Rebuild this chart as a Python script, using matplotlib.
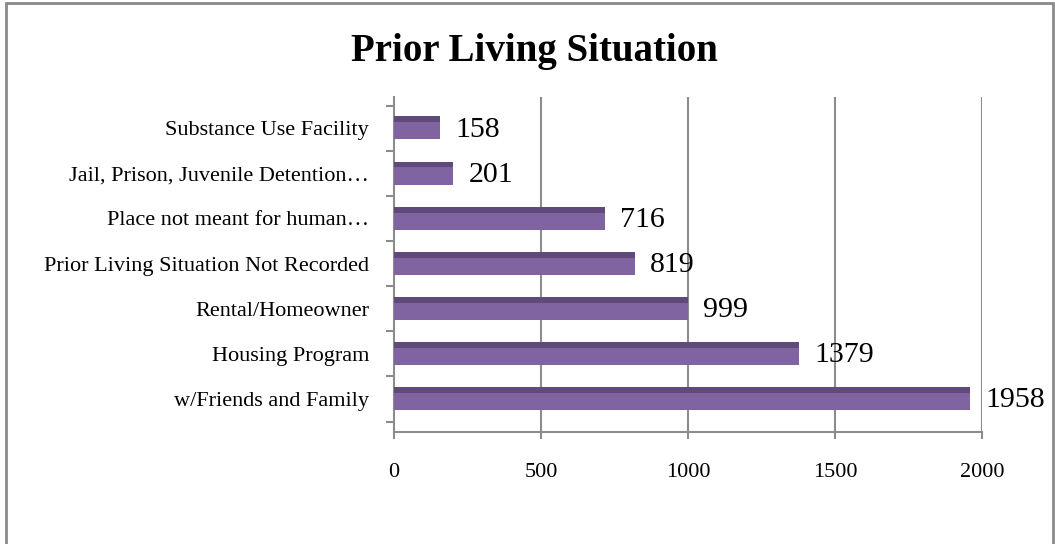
"""Prior Living Situation - horizontal bar chart"""

import matplotlib.pyplot as plt
from matplotlib.patches import Rectangle

categories = [
    'w/Friends and Family',
    'Housing Program',
    'Rental/Homeowner',
    'Prior Living Situation Not Recorded',
    'Place not meant for human\u2026',
    'Jail, Prison, Juvenile Detention\u2026',
    'Substance Use Facility',
]
counts = [1958, 1379, 999, 819, 716, 201, 158]
xticks = [0, 500, 1000, 1500, 2000]

FRONT = '#8064a2'
TOP = '#5f4a7b'
GRID = '#8c8c8c'
SERIF = ['Liberation Serif', 'DejaVu Serif']


def main():
    plt.rcParams['font.family'] = SERIF
    fig = plt.figure(figsize=(10.55, 5.44), dpi=100)

    # outer chart frame
    fig.patches.append(Rectangle((6 / 1055, -0.01), 1047 / 1055, 1.01 - 3 / 544,
                                 transform=fig.transFigure, fill=False,
                                 edgecolor='#8a8a8a', lw=2))

    fig.text(0.507, 0.905, 'Prior Living Situation', ha='center', va='center',
             fontsize=28, fontweight='bold')

    ax = fig.add_axes([0.3735, 0.2059, 0.5573, 0.6158])
    ypos = list(range(len(categories)))

    # front face and darker top face for a bit of depth
    ax.barh([y - 0.06 for y in ypos], counts, height=0.38, color=FRONT,
            lw=0, zorder=3)
    ax.barh([y + 0.195 for y in ypos], counts, height=0.13, color=TOP,
            lw=0, zorder=3)

    for y, v in zip(ypos, counts):
        ax.annotate(f'{v}', (v, y), xytext=(11, -1), textcoords='offset points',
                    ha='left', va='center', fontsize=21.5, zorder=4)

    ax.set_xlim(0, 2000)
    ax.set_ylim(-0.73, 6.69)
    ax.set_xticks(xticks)
    ax.set_xticklabels([str(t) for t in xticks], fontsize=16)
    ax.tick_params(axis='x', length=5, color=GRID, width=1.5, pad=17)
    ax.set_yticks(ypos)
    ax.set_yticklabels(categories, fontsize=16)
    ax.tick_params(axis='y', length=0, pad=18)
    ax.set_yticks([y + 0.5 for y in range(-1, len(categories))], minor=True)
    ax.tick_params(axis='y', which='minor', length=6, color=GRID, width=1.5)

    for t in xticks[1:]:
        ax.axvline(t, color=GRID, lw=1.5, zorder=1)

    for side in ('top', 'right'):
        ax.spines[side].set_visible(False)
    for side in ('left', 'bottom'):
        ax.spines[side].set_color(GRID)
        ax.spines[side].set_linewidth(1.5)

    fig.savefig('out.png', dpi=100)


if __name__ == "__main__":
    main()
